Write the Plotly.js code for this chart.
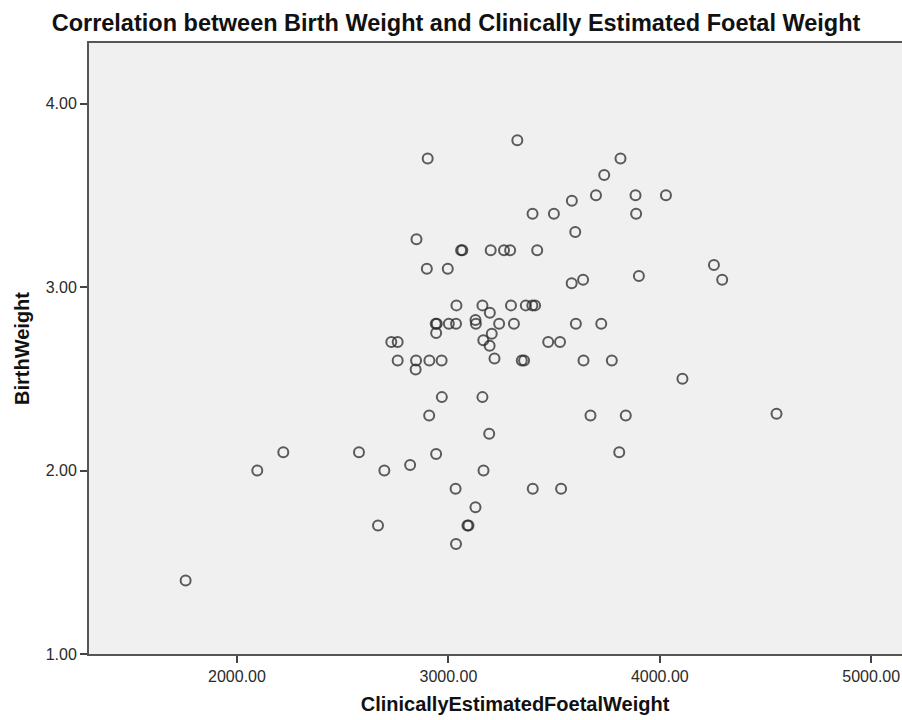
<!DOCTYPE html>
<html>
<head>
<meta charset="utf-8">
<script src="https://cdn.plot.ly/plotly-3.0.1.min.js"></script>
<style>
html, body { margin: 0; padding: 0; overflow: hidden; background: #ffffff; }
#chart { width: 945px; height: 720px; }
</style>
</head>
<body>
<div id="chart"></div>
<script>
// Clinically estimated foetal weight (g)
const foetalWeight = [
  1757, 2096, 2219, 2577, 2697, 2819, 2942, 2667, 2909, 2969,
  2730, 2760, 2760, 2847, 2845, 2910, 2968, 2942, 3034, 3036,
  3161, 3193, 3166, 3399, 3533, 3128, 3090, 3095, 3672, 3839,
  3808, 4552, 3814, 3737, 3698, 3885, 4029, 3584, 3888, 3398,
  3499, 3326, 2902, 3600, 4256, 4295, 3901, 3583, 3637, 3603,
  3723, 3639, 3773, 4107, 2849, 3060, 3066, 3200, 3263, 3292,
  3420, 2898, 2997, 3038, 3161, 3196, 3296, 3366, 3397, 3410,
  2940, 2945, 3002, 3036, 3128, 3130, 3240, 3310, 3205, 3165,
  3195, 3472, 3528, 3218, 3347, 3358
];
// Birth weight (kg)
const birthWeight = [
  1.40, 2.00, 2.10, 2.10, 2.00, 2.03, 2.09, 1.70, 2.30, 2.40,
  2.70, 2.70, 2.60, 2.60, 2.55, 2.60, 2.60, 2.75, 1.90, 1.60,
  2.40, 2.20, 2.00, 1.90, 1.90, 1.80, 1.70, 1.70, 2.30, 2.30,
  2.10, 2.31, 3.70, 3.61, 3.50, 3.50, 3.50, 3.47, 3.40, 3.40,
  3.40, 3.80, 3.70, 3.30, 3.12, 3.04, 3.06, 3.02, 3.04, 2.80,
  2.80, 2.60, 2.60, 2.50, 3.26, 3.20, 3.20, 3.20, 3.20, 3.20,
  3.20, 3.10, 3.10, 2.90, 2.90, 2.86, 2.90, 2.90, 2.90, 2.90,
  2.80, 2.80, 2.80, 2.80, 2.82, 2.80, 2.80, 2.80, 2.745, 2.71,
  2.68, 2.70, 2.70, 2.61, 2.60, 2.60
];
const xTicks = [2000, 3000, 4000, 5000];
const yTicks = [1, 2, 3, 4];

const FONT = 'Arial, "Liberation Sans", sans-serif';

const trace = {
  type: 'scatter',
  mode: 'markers',
  x: foetalWeight,
  y: birthWeight,
  marker: {
    symbol: 'circle-open',
    size: 10,
    color: 'rgba(40,40,40,0.75)',
    line: { width: 2, color: 'rgba(40,40,40,0.75)' }
  },
  hoverinfo: 'x+y'
};

const layout = {
  width: 945,
  height: 720,
  margin: { l: 89, r: 4, t: 43, b: 66 },
  paper_bgcolor: '#ffffff',
  plot_bgcolor: '#f0f0f0',
  showlegend: false,
  font: { family: FONT, color: '#222' },
  title: {
    text: '<b>Correlation between Birth Weight and Clinically Estimated Foetal Weight</b>',
    font: { family: FONT, size: 23.5, color: '#111' },
    xref: 'container', x: 456 / 945, xanchor: 'center',
    yref: 'container', y: 1 - 23 / 720, yanchor: 'middle'
  },
  xaxis: {
    range: [1300, 5330],
    tickvals: xTicks,
    tickformat: '.2f',
    ticks: 'outside', ticklen: 7, tickwidth: 2, tickcolor: '#444',
    tickfont: { family: FONT, size: 16, color: '#2a2a2a' },
    showgrid: false, zeroline: false,
    showline: true, linecolor: '#555', linewidth: 2, mirror: true,
    title: {
      text: '<b>ClinicallyEstimatedFoetalWeight</b>',
      font: { family: FONT, size: 20, color: '#111' },
      standoff: 13
    }
  },
  yaxis: {
    range: [1, 4.33],
    tickvals: yTicks,
    tickformat: '.2f',
    ticks: 'outside', ticklen: 7, tickwidth: 2, tickcolor: '#444',
    tickfont: { family: FONT, size: 16, color: '#2a2a2a' },
    showgrid: false, zeroline: false,
    showline: true, linecolor: '#555', linewidth: 2, mirror: true,
    title: {
      text: '<b>BirthWeight</b>',
      font: { family: FONT, size: 20, color: '#111' },
      standoff: 11
    }
  }
};

Plotly.newPlot('chart', [trace], layout, { displayModeBar: false, staticPlot: true });
</script>
</body>
</html>
